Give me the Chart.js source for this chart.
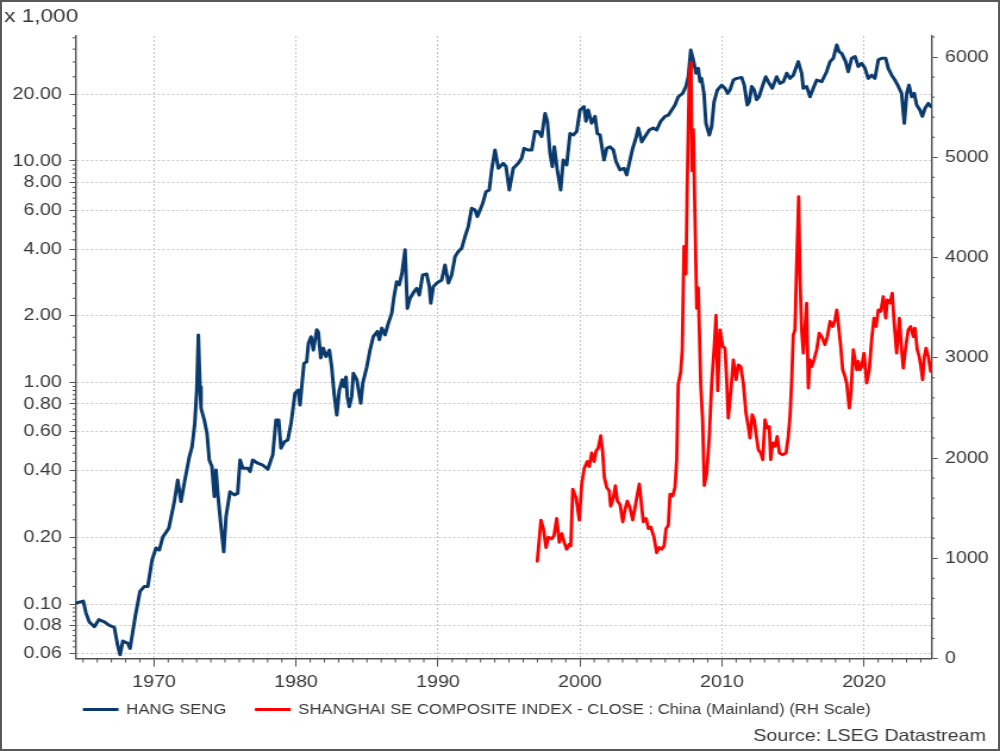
<!DOCTYPE html>
<html>
<head>
<meta charset="utf-8">
<title>Hang Seng vs Shanghai Composite</title>
<script src="https://cdn.jsdelivr.net/npm/chart.js@4.4.1/dist/chart.umd.min.js"></script>
<style>
  html, body { margin: 0; padding: 0; background: #fff; }
  #wrap { position: relative; width: 1000px; height: 751px; overflow: hidden; }
  #chart { position: absolute; left: 0; top: 0; }
  #frame { position: absolute; left: 0; top: 0; width: 1000px; height: 751px; box-sizing: border-box; border: 2px solid #595959; pointer-events: none; }
</style>
</head>
<body>
<div id="wrap">
  <canvas id="chart" width="840" height="751" style="width:1000px;height:751px"></canvas>
  <div id="frame"></div>
</div>
<script>
// Hang Seng, in thousands (left log scale)
const hsYears = [
  1964.51, 1965.02, 1965.21, 1965.44, 1965.80, 1966.11, 1966.50, 1966.85, 1967.20, 1967.44,
  1967.61, 1967.80, 1968.15, 1968.31, 1968.68, 1969.01, 1969.32, 1969.56, 1969.86, 1970.14,
  1970.37, 1970.61, 1971.04, 1971.43, 1971.67, 1971.90, 1972.13, 1972.49, 1972.68, 1972.87,
  1973.01, 1973.12, 1973.24, 1973.31, 1973.54, 1973.73, 1973.89, 1974.08, 1974.25, 1974.37,
  1974.49, 1974.72, 1974.91, 1975.07, 1975.35, 1975.66, 1975.89, 1976.06, 1976.25, 1976.60,
  1976.76, 1976.95, 1977.30, 1977.65, 1978.01, 1978.36, 1978.59, 1978.78, 1978.94, 1979.18,
  1979.42, 1979.65, 1979.93, 1980.16, 1980.28, 1980.56, 1980.75, 1980.87, 1981.06, 1981.22,
  1981.46, 1981.57, 1981.74, 1981.92, 1982.11, 1982.35, 1982.51, 1982.68, 1982.87, 1983.05,
  1983.26, 1983.38, 1983.52, 1983.61, 1983.75, 1983.92, 1984.04, 1984.28, 1984.56, 1984.70,
  1984.99, 1985.21, 1985.44, 1985.73, 1985.87, 1986.04, 1986.27, 1986.50, 1986.74, 1986.90,
  1987.09, 1987.27, 1987.46, 1987.68, 1987.84, 1988.03, 1988.31, 1988.50, 1988.68, 1988.92,
  1989.20, 1989.39, 1989.49, 1989.67, 1989.91, 1990.26, 1990.49, 1990.73, 1990.96, 1991.20,
  1991.43, 1991.67, 1991.90, 1992.13, 1992.37, 1992.61, 1992.77, 1992.96, 1993.15, 1993.38,
  1993.61, 1993.78, 1994.01, 1994.25, 1994.60, 1994.79, 1995.02, 1995.30, 1995.65, 1995.89,
  1996.06, 1996.36, 1996.60, 1996.83, 1997.06, 1997.30, 1997.54, 1997.70, 1997.89, 1998.05,
  1998.19, 1998.40, 1998.64, 1998.82, 1999.06, 1999.30, 1999.53, 1999.77, 2000.00, 2000.28,
  2000.42, 2000.58, 2000.82, 2001.06, 2001.22, 2001.41, 2001.69, 2001.88, 2002.11, 2002.35,
  2002.54, 2002.82, 2003.10, 2003.29, 2003.47, 2003.71, 2003.94, 2004.11, 2004.35, 2004.58,
  2004.88, 2005.16, 2005.40, 2005.68, 2005.99, 2006.22, 2006.46, 2006.69, 2006.92, 2007.23,
  2007.46, 2007.63, 2007.80, 2007.98, 2008.17, 2008.33, 2008.45, 2008.56, 2008.73, 2008.87,
  2009.11, 2009.27, 2009.44, 2009.67, 2009.98, 2010.21, 2010.40, 2010.56, 2010.80, 2011.04,
  2011.39, 2011.57, 2011.78, 2011.92, 2012.09, 2012.27, 2012.44, 2012.61, 2012.80, 2013.08,
  2013.26, 2013.54, 2013.85, 2014.08, 2014.32, 2014.56, 2014.79, 2015.02, 2015.37, 2015.61,
  2015.73, 2015.96, 2016.20, 2016.43, 2016.67, 2017.02, 2017.37, 2017.61, 2017.84, 2018.08,
  2018.24, 2018.43, 2018.71, 2018.89, 2019.13, 2019.37, 2019.60, 2019.84, 2020.07, 2020.30,
  2020.54, 2020.77, 2021.01, 2021.25, 2021.53, 2021.71, 2021.95, 2022.18, 2022.42, 2022.65,
  2022.84, 2023.01, 2023.17, 2023.36, 2023.54, 2023.71, 2023.94, 2024.11, 2024.30, 2024.53,
  2024.72
];
const hsValues = [
  0.101, 0.103, 0.091, 0.083, 0.079, 0.085, 0.083, 0.080, 0.0785, 0.065,
  0.059, 0.068, 0.0665, 0.063, 0.088, 0.114, 0.120, 0.120, 0.158, 0.179,
  0.175, 0.200, 0.220, 0.290, 0.363, 0.290, 0.351, 0.463, 0.513, 0.654,
  0.925, 1.64, 0.957, 0.765, 0.677, 0.590, 0.447, 0.417, 0.305, 0.403,
  0.316, 0.223, 0.172, 0.248, 0.321, 0.311, 0.316, 0.447, 0.410, 0.410,
  0.396, 0.447, 0.432, 0.424, 0.406, 0.471, 0.677, 0.677, 0.505, 0.540,
  0.550, 0.654, 0.894, 0.925, 0.791, 1.22, 1.24, 1.50, 1.61, 1.40,
  1.73, 1.69, 1.29, 1.43, 1.31, 1.40, 1.18, 0.894, 0.713, 0.925,
  1.03, 0.957, 1.06, 0.863, 0.777, 0.863, 1.10, 1.03, 0.806, 0.992,
  1.18, 1.40, 1.61, 1.70, 1.56, 1.76, 1.64, 1.85, 2.05, 2.44,
  2.85, 2.76, 3.11, 3.97, 2.16, 2.40, 2.57, 2.66, 2.48, 3.06,
  3.09, 2.71, 2.28, 2.71, 2.81, 2.90, 3.39, 2.81, 3.06, 3.70,
  3.90, 4.04, 4.55, 5.05, 6.12, 6.01, 5.61, 6.01, 6.44, 7.27,
  7.40, 9.11, 11.2, 9.27, 9.76, 9.43, 7.40, 9.27, 9.76, 10.3,
  11.4, 11.2, 11.2, 13.6, 13.6, 12.9, 16.4, 15.1, 10.8, 9.43,
  11.6, 9.11, 7.40, 10.1, 9.59, 13.3, 13.1, 13.6, 17.0, 17.6,
  15.1, 17.0, 14.8, 15.9, 13.3, 13.1, 10.1, 11.4, 11.6, 11.2,
  9.93, 9.11, 9.27, 8.65, 9.76, 11.4, 12.7, 14.1, 12.2, 12.9,
  13.8, 14.1, 13.8, 15.1, 15.9, 16.1, 17.0, 17.9, 19.5, 20.2,
  21.7, 24.0, 31.7, 28.6, 24.9, 26.2, 22.8, 23.6, 20.2, 14.8,
  13.1, 14.3, 18.5, 20.9, 22.0, 21.3, 20.2, 20.9, 23.2, 23.6,
  23.8, 22.0, 17.9, 18.5, 21.7, 20.9, 18.9, 19.5, 21.3, 24.0,
  22.8, 21.3, 24.0, 22.4, 22.8, 24.9, 23.6, 24.4, 28.1, 24.9,
  21.3, 21.7, 19.5, 21.3, 23.2, 22.8, 25.3, 28.1, 29.1, 33.4,
  31.2, 30.6, 28.1, 25.3, 29.1, 29.6, 26.7, 27.6, 26.2, 23.6,
  24.4, 23.6, 28.6, 29.1, 29.1, 26.2, 24.4, 23.2, 21.7, 20.2,
  14.8, 20.2, 22.0, 19.5, 20.2, 17.9, 17.0, 15.9, 17.3, 18.2,
  17.6
];

// Shanghai SE Composite close (right scale)
const shYears = [
  1996.99, 1997.25, 1997.42, 1997.61, 1997.77, 1998.01, 1998.17, 1998.36, 1998.54, 1998.71,
  1998.89, 1999.06, 1999.25, 1999.35, 1999.49, 1999.72, 1999.95, 2000.12, 2000.30, 2000.51,
  2000.65, 2000.82, 2000.99, 2001.13, 2001.29, 2001.46, 2001.60, 2001.71, 2001.88, 2002.06,
  2002.16, 2002.35, 2002.49, 2002.63, 2002.82, 2003.01, 2003.17, 2003.33, 2003.52, 2003.71,
  2003.87, 2004.04, 2004.18, 2004.35, 2004.46, 2004.65, 2004.81, 2004.98, 2005.21, 2005.40,
  2005.58, 2005.75, 2005.92, 2006.06, 2006.22, 2006.34, 2006.53, 2006.69, 2006.81, 2006.92,
  2007.09, 2007.20, 2007.32, 2007.46, 2007.56, 2007.70, 2007.82, 2007.89, 2007.98, 2008.10,
  2008.22, 2008.33, 2008.50, 2008.64, 2008.75, 2008.92, 2009.11, 2009.27, 2009.44, 2009.58,
  2009.70, 2009.86, 2010.05, 2010.21, 2010.33, 2010.44, 2010.61, 2010.80, 2010.99, 2011.15,
  2011.32, 2011.50, 2011.69, 2011.85, 2011.97, 2012.13, 2012.27, 2012.39, 2012.56, 2012.73,
  2012.87, 2013.03, 2013.19, 2013.33, 2013.43, 2013.57, 2013.73, 2013.89, 2014.04, 2014.27,
  2014.51, 2014.67, 2014.79, 2014.91, 2015.02, 2015.14, 2015.26, 2015.40, 2015.49, 2015.61,
  2015.73, 2015.85, 2015.96, 2016.08, 2016.20, 2016.32, 2016.48, 2016.67, 2016.85, 2017.02,
  2017.25, 2017.42, 2017.61, 2017.80, 2017.96, 2018.08, 2018.19, 2018.36, 2018.50, 2018.66,
  2018.78, 2018.96, 2019.08, 2019.25, 2019.37, 2019.49, 2019.60, 2019.72, 2019.84, 2020.00,
  2020.19, 2020.37, 2020.54, 2020.70, 2020.85, 2021.01, 2021.18, 2021.36, 2021.53, 2021.64,
  2021.83, 2021.99, 2022.11, 2022.30, 2022.49, 2022.65, 2022.77, 2022.94, 2023.12, 2023.29,
  2023.47, 2023.59, 2023.75, 2023.89, 2024.01, 2024.13, 2024.25, 2024.37, 2024.53, 2024.70
];
const shValues = [
  970, 1381, 1296, 1107, 1210, 1193, 1227, 1398, 1158, 1245,
  1158, 1090, 1141, 1124, 1690, 1605, 1381, 1742, 1897, 1965,
  1914, 2051, 1965, 2068, 2102, 2223, 2051, 1811, 1707, 1673,
  1519, 1605, 1725, 1571, 1536, 1364, 1485, 1571, 1502, 1381,
  1502, 1640, 1742, 1502, 1364, 1398, 1296, 1313, 1210, 1055,
  1107, 1090, 1124, 1296, 1330, 1640, 1622, 1707, 1983, 2737,
  2858, 3081, 4110, 3835, 4797, 5827, 5946, 4865, 5277, 4384,
  3492, 3699, 2737, 2360, 1725, 1845, 2223, 2737, 3081, 3424,
  2669, 3279, 3113, 3097, 2781, 2399, 2648, 2980, 2781, 2930,
  2913, 2748, 2449, 2315, 2200, 2432, 2382, 2249, 2083, 2050,
  1983, 2382, 2299, 2315, 1983, 2150, 2116, 2216, 2050, 2033,
  2050, 2216, 2415, 2781, 3229, 3279, 3944, 4608, 3810, 3279,
  3047, 3312, 3545, 2698, 2980, 2913, 2980, 3080, 3246, 3212,
  3130, 3212, 3362, 3312, 3379, 3478, 3346, 3113, 2880, 2814,
  2748, 2499, 2648, 3080, 2980, 2880, 2963, 2880, 2913, 3047,
  2748, 2880, 3180, 3396, 3312, 3478, 3462, 3611, 3396, 3578,
  3545, 3645, 3379, 3047, 3396, 3080, 2897, 3113, 3279, 3312,
  3212, 3296, 3080, 3013, 2913, 2781, 3013, 3097, 3013, 2864
];

const yearTicks = [1970, 1980, 1990, 2000, 2010, 2020];
const leftTicks = [0.06, 0.08, 0.1, 0.2, 0.4, 0.6, 0.8, 1, 2, 4, 6, 8, 10, 20];
const rightTicks = [0, 1000, 2000, 3000, 4000, 5000, 6000];
const seriesNames = ['HANG SENG', 'SHANGHAI SE COMPOSITE INDEX - CLOSE : China (Mainland) (RH Scale)'];
const unitText = 'x 1,000';
const sourceText = 'Source: LSEG Datastream';

// the picture is stretched sideways: draw on a narrower canvas and let css widen it
const S = 1000 / 840;
const FONT = '"Liberation Sans", Arial, Helvetica, sans-serif';
const TEXT = '#383838';
const AXIS = '#505050';
const GRID = '#c6c6c6';

function toPoints(xs, ys) {
  return xs.map((x, i) => ({ x: x, y: ys[i] }));
}

// five subdivisions between labelled log ticks, and above the last one
function leftMinors() {
  const ext = leftTicks.concat([40]);
  const out = [];
  for (let i = 0; i < ext.length - 1; i++) {
    const step = (ext[i + 1] - ext[i]) / 5;
    for (let k = 1; k < 5; k++) out.push(ext[i] + k * step);
  }
  return out;
}

const decorations = {
  id: 'decorations',
  afterDraw(chart) {
    const ctx = chart.ctx;
    const a = chart.chartArea;
    const sx = chart.scales.x, sy = chart.scales.y, sy2 = chart.scales.y2;
    ctx.save();

    // minor tick marks
    ctx.strokeStyle = AXIS;
    ctx.lineWidth = 1;
    ctx.beginPath();
    for (let yr = Math.ceil(sx.min); yr <= sx.max; yr++) {
      if (yearTicks.includes(yr)) continue;
      const px = sx.getPixelForValue(yr);
      ctx.moveTo(px, a.bottom);
      ctx.lineTo(px, a.bottom + 4);
    }
    leftMinors().forEach(v => {
      if (v < sy.min || v > sy.max) return;
      const py = sy.getPixelForValue(v);
      ctx.moveTo(a.left - 2.5, py);
      ctx.lineTo(a.left, py);
    });
    for (let v = 200; v < sy2.max; v += 200) {
      if (v % 1000 === 0) continue;
      const py = sy2.getPixelForValue(v);
      ctx.moveTo(a.right, py);
      ctx.lineTo(a.right + 2.5, py);
    }
    ctx.stroke();

    // unit label above the left axis
    ctx.fillStyle = TEXT;
    ctx.textBaseline = 'middle';
    ctx.textAlign = 'left';
    ctx.font = '19px ' + FONT;
    ctx.fillText(unitText, 3.4, 16.5);

    // legend
    ctx.font = '14px ' + FONT;
    let lx = 69.6;
    chart.data.datasets.forEach(ds => {
      ctx.strokeStyle = ds.borderColor;
      ctx.lineWidth = 3;
      ctx.beginPath();
      ctx.moveTo(lx, 709.5);
      ctx.lineTo(lx + 30, 709.5);
      ctx.stroke();
      ctx.fillStyle = TEXT;
      ctx.fillText(ds.label, lx + 36.5, 710);
      lx += 36.5 + ctx.measureText(ds.label).width + 24;
    });

    // source line
    ctx.font = '16.5px ' + FONT;
    ctx.textAlign = 'right';
    ctx.fillText(sourceText, 828.2, 736);
    ctx.restore();
  }
};

new Chart(document.getElementById('chart'), {
  type: 'line',
  data: {
    datasets: [
      {
        label: seriesNames[0],
        data: toPoints(hsYears, hsValues),
        yAxisID: 'y',
        borderColor: '#0b3b6d',
        borderWidth: 3,
        pointRadius: 0,
        tension: 0,
        borderJoinStyle: 'round',
        borderCapStyle: 'round',
        order: 2
      },
      {
        label: seriesNames[1],
        data: toPoints(shYears, shValues),
        yAxisID: 'y2',
        borderColor: '#ff0000',
        borderWidth: 2.8,
        pointRadius: 0,
        tension: 0,
        borderJoinStyle: 'round',
        borderCapStyle: 'round',
        order: 1
      }
    ]
  },
  options: {
    responsive: false,
    animation: false,
    devicePixelRatio: 1,
    layout: { padding: { top: 36, bottom: 60.5, left: 0, right: 0 } },
    plugins: {
      legend: { display: false },
      tooltip: { enabled: false }
    },
    scales: {
      x: {
        type: 'linear',
        min: 1964.47,
        max: 2024.77,
        afterBuildTicks: s => { s.ticks = yearTicks.map(v => ({ value: v })); },
        afterFit: s => { s.height = 32; },
        grid: { color: GRID, lineWidth: 1, tickLength: 8, tickColor: AXIS, tickWidth: 1 },
        border: { color: AXIS, width: 1.4, dash: [2, 2] },
        ticks: {
          color: TEXT, padding: 6, maxRotation: 0, autoSkip: false,
          font: { family: FONT, size: 16.5 },
          callback: v => String(v)
        }
      },
      y: {
        type: 'logarithmic',
        position: 'left',
        min: 0.05675,
        max: 36.67,
        afterBuildTicks: s => { s.ticks = leftTicks.map(v => ({ value: v })); },
        afterFit: s => { s.width = 75.5 / S; },
        grid: { color: GRID, lineWidth: 1, tickLength: 5, tickColor: AXIS, tickWidth: 1 },
        border: { color: AXIS, width: 1.4, dash: [2, 2] },
        ticks: {
          color: TEXT, padding: 6.6, autoSkip: false,
          font: { family: FONT, size: 16.5 },
          callback: v => Number(v).toFixed(2)
        }
      },
      y2: {
        type: 'linear',
        position: 'right',
        min: 0,
        max: 6210,
        afterBuildTicks: s => { s.ticks = rightTicks.map(v => ({ value: v })); },
        afterFit: s => { s.width = (1000 - 931.7) / S; },
        grid: { drawOnChartArea: false, tickLength: 5, tickColor: AXIS, tickWidth: 1 },
        border: { color: AXIS, width: 1.4 },
        ticks: {
          color: TEXT, padding: 6.2, autoSkip: false,
          font: { family: FONT, size: 16.5 },
          callback: v => String(v)
        }
      }
    }
  },
  plugins: [decorations]
});
</script>
</body>
</html>
